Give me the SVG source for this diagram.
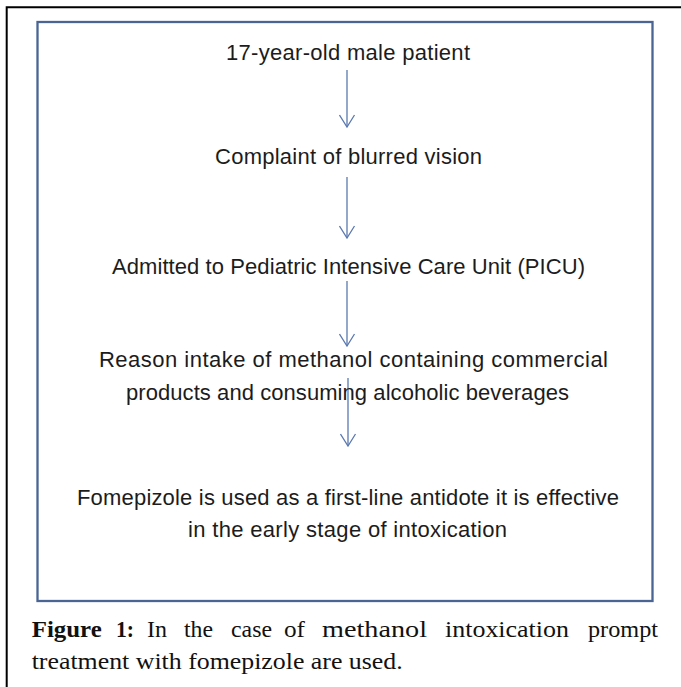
<svg xmlns="http://www.w3.org/2000/svg" width="681" height="687" viewBox="0 0 681 687">
  <style>
    .flow { font-family: "Liberation Sans", Arial, sans-serif; font-size: 22px; fill: #1c1c1c; }
    .cap { font-family: "Liberation Serif", "Times New Roman", serif; font-size: 24px; fill: #111; }
    .capb { font-weight: bold; }
    .conn { stroke: #5a78b0; stroke-width: 1.3; fill: none; marker-end: url(#vhead); }
  </style>
  <defs>
    <marker id="vhead" markerUnits="userSpaceOnUse" viewBox="-1 -1 14 17" refX="12" refY="7.5" markerWidth="14" markerHeight="17" orient="auto">
      <path d="M0,0 L12,7.5 L0,15" fill="none" stroke="#5a78b0" stroke-width="1.3"/>
    </marker>
  </defs>
  <rect x="0" y="0" width="681" height="687" fill="#ffffff"/>
  <path d="M6.7,687 V7.3 H681" fill="none" stroke="#000000" stroke-width="2"/>
  <g id="frame">
    <rect x="37.5" y="22" width="615" height="579" fill="none" stroke="#4a6594" stroke-width="2.3"/>
  </g>
  <g id="connectors">
    <line class="conn" x1="347" y1="70" x2="347" y2="127"/>
    <line class="conn" x1="347" y1="177" x2="347" y2="238"/>
    <line class="conn" x1="347" y1="281" x2="347" y2="346"/>
    <line class="conn" x1="348" y1="378" x2="348" y2="446"/>
  </g>
  <g id="node-patient">
    <text class="flow" x="226" y="60" textLength="244" lengthAdjust="spacing">17-year-old male patient</text>
  </g>
  <g id="node-complaint">
    <text class="flow" x="215" y="164" textLength="267" lengthAdjust="spacing">Complaint of blurred vision</text>
  </g>
  <g id="node-admitted">
    <text class="flow" x="112" y="274" textLength="473" lengthAdjust="spacing">Admitted to Pediatric Intensive Care Unit (PICU)</text>
  </g>
  <g id="node-reason">
    <text class="flow" x="99" y="367" textLength="509" lengthAdjust="spacing">Reason intake of methanol containing commercial</text>
    <text class="flow" x="126" y="400" textLength="443" lengthAdjust="spacing">products and consuming alcoholic beverages</text>
  </g>
  <g id="node-fomepizole">
    <text class="flow" x="77" y="505" textLength="542" lengthAdjust="spacing">Fomepizole is used as a first-line antidote it is effective</text>
    <text class="flow" x="188" y="537" textLength="319" lengthAdjust="spacing">in the early stage of intoxication</text>
  </g>
  <g id="caption">
    <text class="cap capb" x="31.7" y="637" textLength="70" lengthAdjust="spacingAndGlyphs">Figure</text>
    <text class="cap capb" x="116" y="637" textLength="18" lengthAdjust="spacingAndGlyphs">1:</text>
    <text class="cap" x="147" y="637" textLength="20" lengthAdjust="spacingAndGlyphs">In</text>
    <text class="cap" x="184" y="637" textLength="29" lengthAdjust="spacingAndGlyphs">the</text>
    <text class="cap" x="231" y="637" textLength="41" lengthAdjust="spacingAndGlyphs">case</text>
    <text class="cap" x="284" y="637" textLength="21" lengthAdjust="spacingAndGlyphs">of</text>
    <text class="cap" x="322" y="637" textLength="105" lengthAdjust="spacingAndGlyphs">methanol</text>
    <text class="cap" x="445" y="637" textLength="124" lengthAdjust="spacingAndGlyphs">intoxication</text>
    <text class="cap" x="588" y="637" textLength="70" lengthAdjust="spacingAndGlyphs">prompt</text>
    <text class="cap" x="31.7" y="669" textLength="371" lengthAdjust="spacingAndGlyphs">treatment with fomepizole are used.</text>
  </g>
</svg>
